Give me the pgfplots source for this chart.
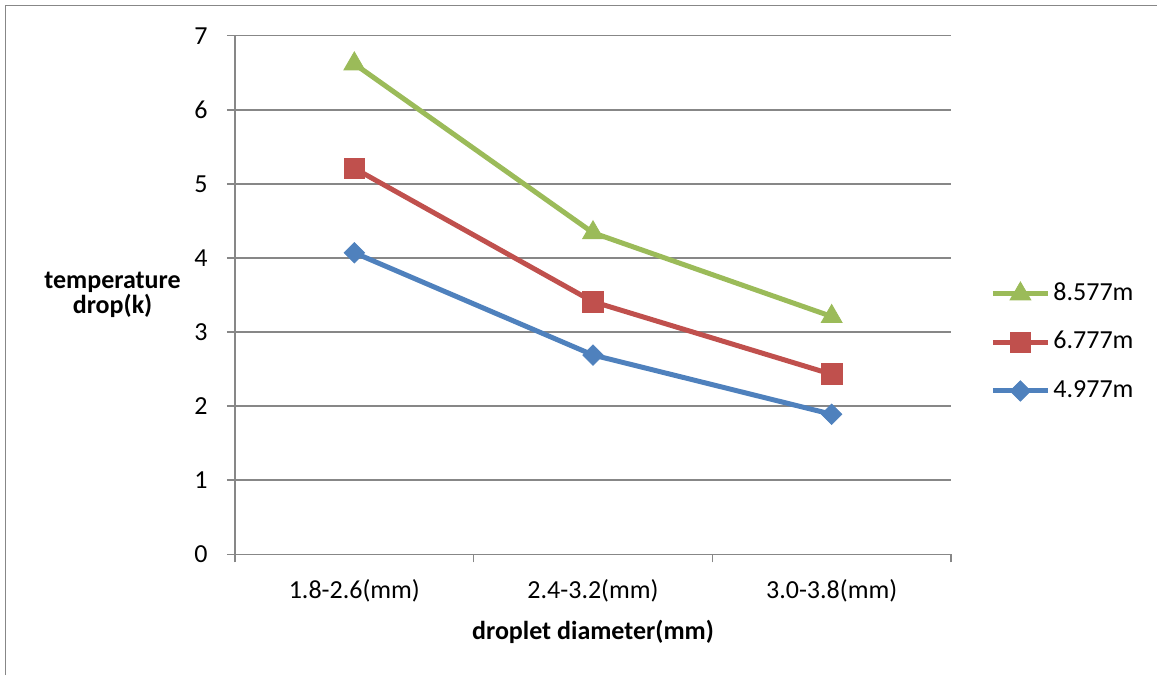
\documentclass[border=0pt]{standalone}
\usepackage{pgfplots}
\pgfplotsset{compat=1.18}
\usepackage{fontspec}
\setmainfont{Carlito}
\definecolor{cgreen}{HTML}{9BBB59}
\definecolor{cred}{HTML}{C0504D}
\definecolor{cblue}{HTML}{4F81BD}
\definecolor{cgrid}{HTML}{878787}
\begin{document}
\fontsize{13pt}{15.6pt}\selectfont
\begin{tikzpicture}
\path[use as bounding box] (0,0) rectangle (578.5pt,337.5pt);
\begin{axis}[
  at={(117.5pt,60.35pt)}, anchor=south west,
  scale only axis, width=358pt, height=259.3pt,
  xmin=-0.5, xmax=2.5, ymin=0, ymax=7,
  axis x line*=bottom, axis y line*=left,
  axis line style={cgrid, line width=0.75pt, -},
  xtick={0,1,2},
  xticklabels={1.8-2.6(mm),2.4-3.2(mm),3.0-3.8(mm)},
  minor xtick={-0.5,0.5,1.5,2.5},
  ytick={0,1,2,3,4,5,6,7},
  ymajorgrids,
  major grid style={cgrid, line width=0.75pt},
  tick align=outside,
  major x tick style={draw=none},
  minor x tick style={cgrid, line width=0.75pt},
  major y tick style={cgrid, line width=0.75pt},
  major tick length=4pt, minor tick length=4pt,
  tick label style={font=\fontsize{13pt}{15.6pt}\selectfont},
  /pgf/number format/assume math mode=true,
  yticklabel style={anchor=east, inner sep=0pt, xshift=-9.5pt},
  xticklabel style={anchor=base, inner sep=0pt, yshift=-18pt},
  ylabel={temperature\\drop(k)},
  ylabel style={rotate=-90, align=center, anchor=center, at={(axis description cs:-0.171,0.5)}, font=\bfseries\fontsize{13pt}{12.5pt}\selectfont},
  xlabel={droplet diameter(mm)},
  xlabel style={anchor=center, at={(axis description cs:0.5,-0.150)}, font=\bfseries\fontsize{13pt}{15.6pt}\selectfont},
  clip=false,
  legend style={draw=none, fill=none, inner sep=0pt, at={(axis description cs:1.0545,0.409)}, anchor=west,
    nodes={text height=9pt, text depth=2.5pt, inner ysep=0pt, inner xsep=1.5pt, font=\fontsize{13pt}{15.6pt}\selectfont},
    row sep=12.75pt},
  legend cell align=left,
  legend image code/.code={\draw[mark repeat=2, mark phase=2, #1] plot coordinates {(0pt,0pt) (13.75pt,0pt) (27.5pt,0pt)};},
]
\addplot[cgreen, line width=2.5pt, mark=triangle*, mark size=6pt, mark options={solid, line width=0.4pt, fill=cgreen, draw=cgreen}]
  coordinates {(0,6.62) (1,4.34) (2,3.21)};
\addlegendentry{8.577m}
\addplot[cred, line width=2.5pt, mark=square*, mark size=5.2pt, mark options={solid, line width=0.4pt, fill=cred, draw=cred}]
  coordinates {(0,5.21) (1,3.41) (2,2.43)};
\addlegendentry{6.777m}
\addplot[cblue, line width=2.5pt, mark=square*, mark size=3.6pt, mark options={solid, rotate=45, line width=0.4pt, fill=cblue, draw=cblue}]
  coordinates {(0,4.07) (1,2.69) (2,1.89)};
\addlegendentry{4.977m}
\end{axis}
\draw[cgrid, line width=0.75pt] (2.85pt,0pt) -- (2.85pt,334.65pt) -- (578.5pt,334.65pt);
\end{tikzpicture}
\end{document}
